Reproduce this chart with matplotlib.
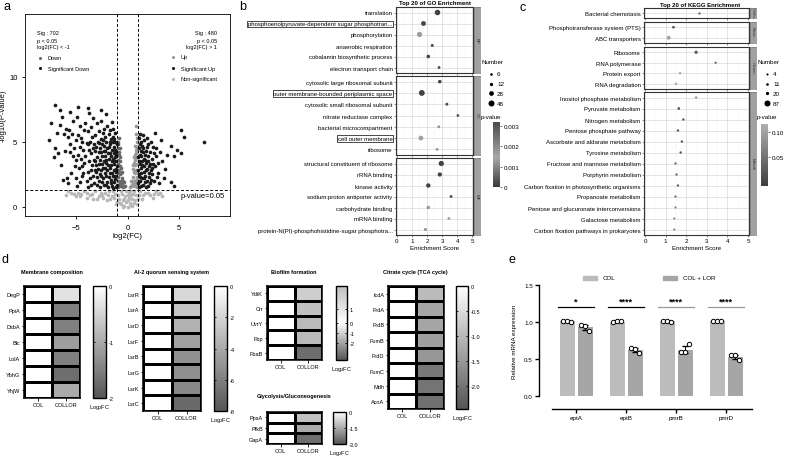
import numpy as np
import matplotlib
matplotlib.use('Agg')
import matplotlib.pyplot as plt
from matplotlib.colors import LinearSegmentedColormap, Normalize, TwoSlopeNorm
from matplotlib.cm import ScalarMappable
from matplotlib.patches import Rectangle

plt.rcParams['font.family'] = ['Liberation Sans', 'DejaVu Sans']

# ---- panel a : volcano points ----
sig_down = [(-1.1,1.5),(-1.3,1.9),(-1.2,2.4),(-1.1,2.9),(-1.3,3.3),(-1.2,3.8),(-1.1,4.2),(-1.3,4.6),(-1.2,5.0),(-1.4,5.4),
            (-1.5,1.6),(-1.6,2.1),(-1.5,2.6),(-1.7,3.0),(-1.5,3.5),(-1.6,3.9),(-1.5,4.4),(-1.7,4.8),(-1.6,5.2),(-1.8,5.6),
            (-1.9,1.5),(-2.0,1.9),(-1.8,2.3),(-2.0,2.8),(-1.9,3.2),(-2.1,3.6),(-1.9,4.1),(-2.0,4.5),(-2.1,5.0),(-2.2,5.4),
            (-2.3,1.7),(-2.4,2.2),(-2.2,2.6),(-2.4,3.0),(-2.3,3.5),(-2.5,3.9),(-2.3,4.3),(-2.5,4.8),(-2.6,5.2),(-2.4,5.7),
            (-2.7,1.5),(-2.8,2.0),(-2.7,2.5),(-2.9,2.9),(-2.8,3.3),(-3.0,3.8),(-2.8,4.2),(-3.1,4.6),(-2.9,5.0),(-3.2,5.5),
            (-3.3,1.8),(-3.4,2.4),(-3.2,2.8),(-3.5,3.2),(-3.3,3.6),(-3.6,4.1),(-3.4,4.5),(-3.7,5.0),(-3.5,5.4),(-3.9,5.8),
            (-4.0,2.0),(-3.9,2.7),(-4.2,3.4),(-4.1,3.9),(-4.3,4.4),(-4.0,4.9),(-4.5,5.3),(-4.2,5.9),(-4.6,6.2),(-4.8,4.0),
            (-4.7,3.0),(-5.0,3.6),(-5.2,4.5),(-5.0,5.1),(-5.4,5.6),(-5.6,4.8),(-5.8,5.4),(-6.0,6.0),(-5.3,6.6),(-4.9,6.9),
            (-7.06,7.85),(-6.6,7.4),(-5.6,7.3),(-4.8,7.7),(-3.9,7.6),(-3.8,7.2),(-2.1,7.1),(-2.6,7.4),(-7.5,6.4),(-6.4,6.9),
            (-7.7,5.1),(-6.8,4.1),(-5.9,2.2),(-5.8,1.8),(-4.6,1.9),(-6.2,5.6),(-6.9,5.7),(-7.1,4.5),(-6.5,3.2),(-5.5,2.6),
            (-4.4,2.4),(-1.4,6.0),(-2.0,6.2),(-3.0,6.4),
            (-1.05,1.7),(-1.25,2.15),(-1.15,2.65),(-1.05,3.15),(-1.25,3.55),(-1.1,4.0),(-1.2,4.4),(-1.05,4.8),(-1.3,5.2),
            (-1.4,1.45),(-1.45,2.35),(-1.35,2.8),(-1.4,3.7),(-1.35,4.1),(-1.45,4.95),(-1.65,1.8),(-1.75,2.6),(-1.65,3.25),
            (-1.8,3.7),(-1.7,4.15),(-1.8,4.6),(-1.75,5.0),(-2.05,1.65),(-2.1,2.4),(-2.15,3.0),(-2.05,3.4),(-2.2,3.9),
            (-2.15,4.3),(-2.3,4.7),(-2.35,5.1),(-2.5,1.9),(-2.55,2.4),(-2.6,2.8),(-2.5,3.3),(-2.65,3.6),(-2.55,4.2),
            (-2.7,4.5),(-2.75,4.9),(-2.95,1.7),(-3.0,2.3),(-3.05,2.7),(-3.1,3.2),(-3.2,3.5),(-3.15,4.3),(-3.3,4.8),
            (-3.6,1.7),(-3.7,2.2),(-3.6,2.8),(-3.8,3.5),(-3.75,4.4),(-3.9,4.8),(-4.3,2.6),(-4.4,3.1),(-4.5,3.7),
            (-4.6,4.6),(-4.4,5.0),(-4.8,5.5),(-5.1,3.1),(-5.3,3.9),(-5.6,4.2),(-5.7,5.9),(-4.1,6.4),(-3.6,6.1),
            (-2.8,5.8),(-2.3,6.0),(-1.7,5.9),(-1.2,5.7),(-1.5,6.5),(-2.6,6.6),(-3.4,6.8),(-6.1,4.3),(-6.3,2.1),
            (-5.0,2.2),(-4.9,1.6),(-3.9,1.5),(-6.6,6.3),(-7.2,3.8)]
sig_up = [(1.1,1.5),(1.2,2.0),(1.1,2.5),(1.3,3.0),(1.1,3.5),(1.2,4.0),(1.1,4.5),(1.3,5.0),(1.1,5.3),
          (1.5,1.7),(1.4,2.2),(1.6,2.7),(1.4,3.2),(1.6,3.7),(1.5,4.2),(1.4,4.7),(1.6,5.1),
          (1.8,1.5),(1.9,2.0),(1.7,2.4),(1.9,2.9),(1.8,3.4),(2.0,3.9),(1.8,4.3),(2.0,4.8),
          (2.2,1.8),(2.1,2.3),(2.3,2.8),(2.2,3.3),(2.4,3.7),(2.2,4.2),(2.5,4.6),(2.6,2.0),(2.7,3.1),(2.8,3.9),
          (3.0,2.6),(3.2,4.2),(3.4,3.5),(5.2,5.9),(5.5,5.4),(7.5,5.0),(4.2,4.7),(2.7,5.7),(4.5,3.9),(5.2,4.1),
          (3.7,2.9),(4.2,1.9),(4.5,1.6),(3.1,1.8),(3.6,2.2),(3.9,4.0),(4.8,4.4),(3.3,5.1),
          (1.05,1.8),(1.25,2.3),(1.05,2.8),(1.2,3.3),(1.05,3.8),(1.3,4.3),(1.2,4.8),(1.35,1.6),(1.3,2.6),
          (1.45,3.5),(1.35,3.9),(1.5,4.5),(1.7,1.9),(1.65,2.2),(1.8,2.8),(1.6,3.1),(1.75,3.6),(1.7,4.0),
          (1.9,4.6),(2.0,1.6),(2.05,2.6),(2.1,3.1),(2.0,3.5),(2.3,2.1),(2.4,2.5),(2.35,3.0),(2.5,3.3),
          (2.6,4.1),(2.9,2.3),(2.8,4.5),(3.0,3.4),(1.2,5.6),(1.5,5.5),(1.9,5.3),(2.3,5.0)]
down = [(-0.9,1.5),(-0.8,2.0),(-0.9,2.6),(-0.7,3.1),(-0.9,3.6),(-0.8,4.2),(-0.9,4.8),(-0.6,1.6),(-0.5,2.2),
        (-0.7,2.5),(-0.6,3.0),(-0.4,1.5),(-0.3,1.9),(-0.8,5.3),(-0.7,3.8),(-0.5,2.7),(-0.2,1.6),
        (-0.95,2.3),(-0.85,2.8),(-0.95,3.3),(-0.75,3.5),(-0.85,4.0),(-0.95,4.5),(-0.65,2.0),(-0.55,1.8),
        (-0.75,1.8),(-0.45,2.0),(-0.35,1.6),(-0.6,2.6),(-0.9,5.0),(-0.7,4.5),(-0.8,1.6)]
up = [(0.9,1.5),(0.8,2.1),(0.9,2.7),(0.7,3.2),(0.9,3.8),(0.8,4.4),(0.9,5.0),(0.6,1.6),(0.5,2.3),(0.7,2.6),
      (0.6,3.4),(0.4,1.7),(0.3,2.0),(0.8,5.6),(0.7,4.0),(0.5,2.9),(0.2,1.5),(0.85,6.2),
      (0.95,2.3),(0.85,2.8),(0.95,3.3),(0.75,3.6),(0.85,4.1),(0.95,4.6),(0.65,2.0),(0.55,1.8),(0.75,1.8),
      (0.45,2.0),(0.35,1.6),(0.6,2.7),(0.9,5.3),(0.75,4.7),(0.8,1.6),(0.65,3.8),(0.55,3.2)]
nonsig = [(-6.0,0.9),(-5.5,1.1),(-5.0,0.8),(-4.5,1.0),(-4.0,0.7),(-3.5,1.0),(-3.0,0.6),(-2.5,0.9),(-2.0,0.5),
          (-1.5,0.8),(-1.0,0.4),(-0.6,0.2),(-0.3,0.1),(0.0,0.0),(0.3,0.15),(0.6,0.3),(1.0,0.6),(1.5,0.9),
          (2.0,1.1),(2.5,0.7),(3.0,1.0),(3.4,0.8),(-4.2,1.2),(-3.2,1.2),(-2.2,1.1),(-1.2,1.0),(-0.8,0.6),
          (-0.4,0.5),(0.4,0.6),(0.8,0.9),(1.2,1.2),(-0.2,0.8),(0.1,1.1),(-1.8,1.2),(-2.8,0.8),(2.8,1.2),
          (-0.5,1.0),(0.5,1.0),(-0.1,0.4),(0.2,0.3),
          (-5.8,1.2),(-5.2,1.0),(-4.8,1.1),(-4.0,1.1),(-3.7,0.9),(-2.6,1.1),(-2.4,0.7),(-1.9,0.9),(-1.7,0.6),
          (-1.3,0.7),(-1.1,0.2),(-0.9,0.9),(-0.7,0.3),(-0.3,0.6),(0.0,0.5),(0.0,0.9),(0.15,0.7),(0.35,0.9),
          (0.7,0.5),(0.9,0.2),(1.1,0.9),(1.4,0.6),(1.7,1.1),(2.2,0.9),(2.6,1.0),(3.2,1.1),(-0.15,1.2),
          (0.25,1.2),(-0.6,1.2),(0.65,1.2),(-1.4,1.2),(-3.4,0.6),(-4.6,0.8),(-0.45,0.0),(0.45,0.1)]

# ---- panel b : GO ----
go_terms = ['translation', 'phosphoenolpyruvate-dependent sugar phosphotran...', 'phosphorylation',
            'anaerobic respiration', 'cobalamin biosynthetic process', 'electron transport chain',
            'cytosolic large ribosomal subunit', 'outer membrane-bounded periplasmic space',
            'cytosolic small ribosomal subunit', 'nitrate reductase complex', 'bacterial microcompartment',
            'cell outer membrane', 'ribosome',
            'structural constituent of ribosome', 'rRNA binding', 'kinase activity',
            'sodium:proton antiporter activity', 'carbohydrate binding', 'mRNA binding',
            'protein-N(PI)-phosphohistidine-sugar phosphotra...']
go_score = [2.7, 1.77, 1.51, 2.35, 2.09, 2.8, 2.85, 1.66, 3.32, 4.05, 2.78, 1.6, 2.67,
            2.95, 2.85, 2.09, 3.6, 2.09, 3.45, 1.9]
go_count = [40, 30, 35, 8, 14, 7, 14, 45, 8, 6, 8, 28, 7, 36, 22, 24, 7, 12, 7, 10]
go_p = [0.0001, 0.0002, 0.0013, 0.0001, 0.0001, 0.0002, 0.0001, 0.0001, 0.0002, 0.0002, 0.0012,
        0.0013, 0.0012, 0.0001, 0.0001, 0.0001, 0.0002, 0.0012, 0.0013, 0.0012]
go_groups = ['BP', 'CC', 'MF']
go_sizes = [6, 7, 7]
go_boxed = ['phosphoenolpyruvate-dependent sugar phosphotran...', 'outer membrane-bounded periplasmic space',
            'cell outer membrane']

# ---- panel c : KEGG ----
kegg_terms = ['Bacterial chemotaxis', 'Phosphotransferase system (PTS)', 'ABC transporters',
              'Ribosome', 'RNA polymerase', 'Protein export', 'RNA degradation',
              'Inositol phosphate metabolism', 'Pyruvate metabolism', 'Nitrogen metabolism',
              'Pentose phosphate pathway', 'Ascorbate and aldarate metabolism', 'Tyrosine metabolism',
              'Fructose and mannose metabolism', 'Porphyrin metabolism',
              'Carbon fixation in photosynthetic organisms', 'Propanoate metabolism',
              'Pentose and glucuronate interconversions', 'Galactose metabolism',
              'Carbon fixation pathways in prokaryotes']
kegg_score = [2.6, 1.38, 1.15, 2.48, 3.43, 1.7, 1.51, 2.48, 1.64, 1.86, 1.6, 1.79, 1.73, 1.48, 1.53,
              1.6, 1.48, 1.48, 1.42, 1.42]
kegg_count = [6, 11, 30, 20, 4, 4, 4, 4, 11, 8, 8, 8, 8, 7, 7, 7, 6, 5, 5, 5]
kegg_p = [0.03, 0.01, 0.1, 0.02, 0.02, 0.08, 0.09, 0.06, 0.01, 0.02, 0.02, 0.02, 0.02, 0.04, 0.04,
          0.03, 0.05, 0.06, 0.07, 0.07]
kegg_groups = ['Cellu..', 'Envir..', 'Genet..', 'Metab']
kegg_sizes = [1, 2, 4, 13]

# ---- panel d : heatmaps (COLLOR log2FC; COL = 0) ----
mem_genes = ['DegP', 'PpiA', 'DsbA', 'Blc', 'LolA', 'YbhG', 'YhjW']
mem_fc = [-0.35, -1.5, -1.5, -1.15, -1.5, -1.7, -1.0]
ai2_genes = ['LsrR', 'LsrA', 'LsrD', 'LsrF', 'LsrB', 'LsrG', 'LsrK', 'LsrC']
ai2_fc = [-1.9, -2.7, -3.6, -4.5, -5.2, -5.3, -5.6, -7.0]
bio_genes = ['YdiK', 'Crr', 'UvrY', 'Fbp', 'FbaB']
bio_fc = [-1.06, -1.4, -1.5, -1.5, -3.2]
gly_genes = ['PpsA', 'PfkB', 'GapA']
gly_fc = [-1.1, -1.5, -2.56]
tca_genes = ['IcdA', 'FrdA', 'FrdB', 'FumB', 'FrdD', 'FumC', 'Mdh', 'AcnA']
tca_fc = [-0.98, -1.3, -1.3, -1.4, -1.5, -1.95, -2.0, -2.05]

# ---- panel e : qPCR ----
genes_e = ['eptA', 'eptB', 'pmrB', 'pmrD']
col_reps = [[1.01, 1.02, 1.00], [1.00, 1.01, 1.01], [1.01, 1.02, 1.00], [1.01, 1.01, 1.01]]
lor_reps = [[0.96, 0.94, 0.88], [0.65, 0.64, 0.58], [0.59, 0.59, 0.70], [0.55, 0.55, 0.49]]
stars = ['*', '****', '****', '****']

W, H = 788, 460
fig = plt.figure(figsize=(W / 100, H / 100), dpi=100)


def px_axes(l, t, r, b):
    return fig.add_axes([l / W, 1 - b / H, (r - l) / W, (b - t) / H])


# ================= a =================
ax = px_axes(25, 15, 230, 217)
for pts, c, sz in [(nonsig, '#b8b8b8', 7), (down, '#6a6a6a', 7), (up, '#9a9a9a', 7),
                   (sig_down, '#1a1a1a', 7), (sig_up, '#1a1a1a', 7)]:
    p = np.array(pts)
    ax.scatter(p[:, 0], p[:, 1], s=sz, c=c, linewidths=0)
ax.axvline(-1, color='k', lw=0.7, ls=(0, (3, 2)))
ax.axvline(1, color='k', lw=0.7, ls=(0, (3, 2)))
ax.axhline(-np.log10(0.05), color='k', lw=0.7, ls=(0, (3, 2)))
ax.text(5.2, 0.9, 'p-value=0.05', fontsize=5.5, va='center')
ax.set_xlim(-10, 10)
ax.set_ylim(-0.7, 14.8)
ax.set_xticks([-5, 0, 5])
ax.set_yticks([0, 5, 10])
ax.tick_params(labelsize=5.5, length=2, width=0.6)
ax.set_xlabel('log2(FC)', fontsize=5.5, labelpad=1)
ax.set_ylabel('-log10(P-value)', fontsize=5.5, labelpad=2)
for s in ax.spines.values():
    s.set_linewidth(0.6)


# ================= b / c dot plots =================
def dotplot(terms, score, count, pval, groups, sizes, facets, left, right, cmap, norm, size_fn, boxed):
    start = 0
    for gi, (g, n) in enumerate(zip(groups, sizes)):
        t, b = facets[gi]
        a = px_axes(left, t, right, b)
        idx = list(range(start, start + n))
        yy = np.arange(n)[::-1]
        a.scatter([score[i] for i in idx], yy, s=[size_fn(count[i]) for i in idx],
                  c=[pval[i] for i in idx], cmap=cmap, norm=norm, linewidths=0, zorder=3)
        a.set_ylim(-0.5, n - 0.5)
        a.set_xlim(-0.05, 5.05)
        a.set_yticks(yy)
        a.set_yticklabels([terms[i] for i in idx], fontsize=4.3)
        for lab in a.get_yticklabels():
            if lab.get_text() in boxed:
                lab.set_bbox(dict(boxstyle='square,pad=0.15', fc='none', ec='k', lw=0.5))
        a.set_xticks(range(6))
        a.set_xticks(np.arange(0.5, 5, 1), minor=True)
        a.grid(which='major', color='#d9d9d9', lw=0.5)
        a.grid(which='minor', axis='x', color='#ececec', lw=0.3)
        a.set_axisbelow(True)
        a.tick_params(length=1.5, width=0.4, color='#333333', pad=1)
        a.tick_params(which='minor', length=0)
        for s in a.spines.values():
            s.set_color('#333333')
            s.set_linewidth(0.8)
        if gi < len(groups) - 1:
            a.set_xticklabels([])
        else:
            a.tick_params(axis='x', labelsize=4.5)
            a.set_xlabel('Enrichment Score', fontsize=4.5, labelpad=1)
        st = px_axes(right + 1, t, right + 7, b)
        st.set_facecolor('#a0a0a0')
        st.set_xticks([])
        st.set_yticks([])
        for s in st.spines.values():
            s.set_color('#7a7a7a')
            s.set_linewidth(0.5)
        st.text(0.5, 0.5, g, rotation=-90, ha='center', va='center', fontsize=3.2, color='#333333',
                transform=st.transAxes)
        start += n


go_cmap = LinearSegmentedColormap.from_list('go', [(0, '#3a3a3a'), (0.45, '#a8a8a8'), (1, '#4c4c4c')])
go_norm = Normalize(0, 0.0032)
dotplot(go_terms, go_score, go_count, go_p, go_groups, go_sizes,
        [(8, 74), (77, 156), (159, 236)], 396, 473, go_cmap, go_norm, lambda n: 1.5 + 0.36 * n, go_boxed)

kegg_cmap = LinearSegmentedColormap.from_list('kg', ['#3d3d3d', '#b0b0b0'])
kegg_norm = Normalize(-0.01, 0.117)
dotplot(kegg_terms, kegg_score, kegg_count, kegg_p, kegg_groups, kegg_sizes,
        [(9, 19), (23, 44), (48, 90), (93, 236)], 644, 749, kegg_cmap, kegg_norm, lambda n: 1.5 + 0.2 * n, [])

cax = px_axes(493, 123, 500, 188)
cb = fig.colorbar(ScalarMappable(go_norm, go_cmap), cax=cax, ticks=[0, 0.001, 0.002, 0.003])
cb.ax.set_yticklabels(['0', '0.001', '0.002', '0.003'])
cb.ax.tick_params(labelsize=4.5, length=1.5, width=0.4, pad=1)
cb.outline.set_visible(False)
cax = px_axes(761, 125, 768, 187)
cb = fig.colorbar(ScalarMappable(kegg_norm, kegg_cmap), cax=cax, ticks=[0.05, 0.1])
cb.ax.tick_params(labelsize=4.5, length=1.5, width=0.4, pad=1)
cb.outline.set_visible(False)


# ================= d heatmaps =================
def heat(box, cbox, genes, fc, norm, cmap, ticks, ticklabels):
    a = px_axes(*box)
    data = np.column_stack([np.zeros(len(fc)), fc])
    a.pcolormesh(data, cmap=cmap, norm=norm, edgecolors='k', linewidth=0.9)
    a.set_ylim(len(fc), 0)
    a.set_yticks(np.arange(len(fc)) + 0.5)
    a.set_yticklabels(genes, fontsize=4)
    a.set_xticks([0.5, 1.5])
    a.set_xticklabels(['COL', 'COLLOR'], fontsize=4)
    a.tick_params(length=1.8, width=0.6, pad=1)
    for s in a.spines.values():
        s.set_linewidth(1.1)
    c = px_axes(*cbox)
    cb = fig.colorbar(ScalarMappable(norm, cmap), cax=c, ticks=ticks)
    cb.ax.set_yticklabels(ticklabels)
    cb.ax.tick_params(labelsize=4, direction='in', length=1.5, width=0.6, left=True, right=True, pad=2)
    cb.outline.set_linewidth(1)
    cb.ax.set_xlabel('Log$_2$FC', fontsize=4, labelpad=3)


grey_cmap = LinearSegmentedColormap.from_list('g', ['#555555', '#ffffff'])
div_cmap = LinearSegmentedColormap.from_list('dv', ['#555555', '#ffffff', '#bdbdbd'])
heat((24, 287, 80, 399), (93, 287, 106, 399), mem_genes, mem_fc, Normalize(-2, 0), grey_cmap,
     [0, -1, -2], ['0', '-1', '-2'])
heat((143, 287, 201, 412), (214, 287, 227, 412), ai2_genes, ai2_fc, Normalize(-8, 0), grey_cmap,
     [0, -2, -4, -6, -8], ['0', '-2', '-4', '-6', '-8'])
heat((267, 287, 322, 361), (336, 287, 347, 361), bio_genes, bio_fc, TwoSlopeNorm(0, -3.75, 2.7), div_cmap,
     [1, 0, -1, -2], ['1', '0', '-1', '-2'])
heat((267, 413, 322, 445), (333, 413, 346, 445), gly_genes, gly_fc, Normalize(-3.0, 0), grey_cmap,
     [0, -1.5, -3.0], ['0', '-1.5', '-3.0'])
heat((388, 287, 444, 410), (456, 287, 468, 410), tca_genes, tca_fc, Normalize(-2.45, 0), grey_cmap,
     [0, -0.5, -1.0, -1.5, -2.0], ['0', '-0.5', '-1.0', '-1.5', '-2.0'])

# ================= e =================
ax = px_axes(539, 286, 752, 397)
x = np.arange(len(genes_e))
col_m = np.mean(col_reps, axis=1)
lor_m = np.mean(lor_reps, axis=1)
ax.bar(x - 0.18, col_m, 0.3, color='#bcbcbc')
ax.bar(x + 0.18, lor_m, 0.3, color='#a6a6a6')
ax.errorbar(x - 0.18, col_m, yerr=np.std(col_reps, axis=1), fmt='none', ecolor='k', capsize=2, lw=0.7)
ax.errorbar(x + 0.18, lor_m, yerr=np.std(lor_reps, axis=1), fmt='none', ecolor='k', capsize=2, lw=0.7)
for i in range(len(genes_e)):
    ax.scatter(i - 0.18 + np.array([-0.08, 0, 0.08]), col_reps[i], s=10, facecolors='white',
               edgecolors='k', linewidths=0.7, zorder=4)
    ax.scatter(i + 0.18 + np.array([-0.08, 0, 0.08]), lor_reps[i], s=10, facecolors='white',
               edgecolors='k', linewidths=0.7, zorder=4)
    lc = 'k' if i < 2 else '#999999'
    ax.plot([i - 0.36, i + 0.36], [1.2, 1.2], color=lc, lw=0.9)
    ax.text(i, 1.22, stars[i], ha='center', va='bottom', fontsize=6.5, fontweight='bold')
ax.set_xlim(-0.74, 3.52)
ax.set_ylim(0, 1.5)
ax.set_yticks([0, 0.5, 1.0, 1.5])
ax.set_yticklabels(['0.0', '0.5', '1.0', '1.5'])
ax.set_xticks(x)
ax.set_xticklabels(genes_e, fontstyle='italic')
ax.tick_params(labelsize=4.5, length=3, width=1, pad=1.5)
ax.spines['top'].set_visible(False)
ax.spines['right'].set_visible(False)
ax.spines['left'].set_linewidth(1)
ax.spines['bottom'].set_linewidth(1)
ax.spines['bottom'].set_position(('outward', 9.4))
ax.spines['bottom'].set_bounds(-0.48, 3.52)
ax.set_ylabel('Relative mRNA expression', fontsize=4.5)
ax.yaxis.set_label_coords(-0.103, 0.5)

# ================= overlay : labels, legends, titles =================
ov = fig.add_axes([0, 0, 1, 1])
ov.set_xlim(0, W)
ov.set_ylim(H, 0)
ov.axis('off')
for lab, (lx, ly) in zip('abcde', [(7, 7), (243, 7), (523, 8), (5, 260), (512, 260)]):
    ov.text(lx, ly, lab, fontsize=9, ha='center', va='center')

for txt, ty in [('Sig : 702', 33), ('p < 0.05', 41), ('log2(FC) < -1', 48)]:
    ov.text(37, ty, txt, fontsize=4, va='center')
for txt, ty in [('Sig : 480', 33), ('p < 0.05', 41), ('log2(FC) > 1', 48)]:
    ov.text(217, ty, txt, fontsize=4, va='center', ha='right')
for txt, c, lx, ly in [('Down', '#6a6a6a', 40, 59), ('Significant Down', '#1a1a1a', 40, 69),
                       ('Up', '#9a9a9a', 173, 58), ('Significant Up', '#1a1a1a', 173, 69),
                       ('Non-significant', '#b8b8b8', 173, 80)]:
    ov.scatter([lx], [ly], s=5, c=c, linewidths=0)
    ov.text(lx + 8, ly, txt, fontsize=4, va='center')

ov.text(435, 4, 'Top 20 of GO Enrichment', fontsize=4.3, ha='center', va='center', fontweight='bold')
ov.text(700, 5, 'Top 20 of KEGG Enrichment', fontsize=4.3, ha='center', va='center', fontweight='bold')

ov.text(482, 62, 'Number', fontsize=4.5, va='center')
for n, ly in zip([6, 12, 28, 48], [75, 85, 94, 104]):
    ov.scatter([491], [ly], s=1.5 + 0.36 * n, c='k', linewidths=0)
    ov.text(497, ly, str(n), fontsize=4.5, va='center')
ov.text(481, 118, 'p-value', fontsize=4.5, va='center')

ov.text(758, 62, 'Number', fontsize=4.5, va='center')
for n, ly in zip([4, 11, 20, 87], [75, 85, 94, 104]):
    ov.scatter([767], [ly], s=1.5 + 0.2 * n, c='k', linewidths=0)
    ov.text(773, ly, str(n), fontsize=4.5, va='center')
ov.text(757, 118, 'p-value', fontsize=4.5, va='center')

for txt, tx, ty in [('Membrane composition', 52, 273), ('AI-2 quorum sensing system', 172, 273),
                    ('Biofilm formation', 294, 273), ('Glycolysis/Gluconeogenesis', 294, 397),
                    ('Citrate cycle (TCA cycle)', 415, 273)]:
    ov.text(tx, ty, txt, fontsize=4, ha='center', va='center', fontweight='bold')

ov.add_patch(Rectangle((583, 277), 14, 4, color='#bcbcbc'))
ov.text(603, 279, 'COL', fontsize=4.5, va='center')
ov.add_patch(Rectangle((663, 277), 14, 4, color='#a6a6a6'))
ov.text(683, 279, 'COL + LOR', fontsize=4.5, va='center')

fig.savefig('out.png', dpi=100)
